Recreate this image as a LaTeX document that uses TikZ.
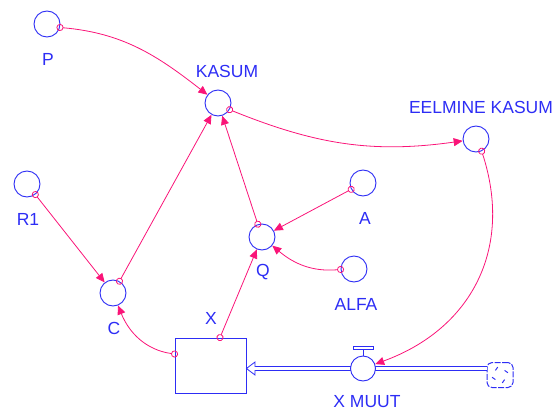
\documentclass[tikz,border=0pt]{standalone}
\usepackage{tikz}
\usepackage{xcolor}
\usepackage{fontspec}
\setmainfont{Liberation Sans}
\usetikzlibrary{positioning,arrows.meta}
\definecolor{vblue}{RGB}{45,45,245}
\definecolor{vpink}{RGB}{250,20,120}
\begin{document}
\begin{tikzpicture}[x=1pt, y=-1pt, >=latex]
    \tikzstyle{aux}=[circle, draw=vblue, line width=0.9pt, fill=white, minimum size=26pt, inner sep=0pt]
    \tikzstyle{lbl}=[text=vblue, inner sep=0pt, font=\fontsize{17.5}{18}\selectfont]
    \tikzstyle{link}=[draw=vpink, line width=0.8pt, shorten <=-3.5pt,
        {Circle[open, length=7pt, width=7pt]}-{Triangle[length=9pt, width=8pt]}]
    \tikzstyle{pipe}=[draw=vblue, line width=0.8pt, double=white, double distance=3.2pt]
    \useasboundingbox (0,0) rectangle (557,412);

    % auxiliaries
    \node[aux] (p) at (47,24) {};
    \node[aux] (kasum) at (218,103) {};
    \node[aux] (eelmine) at (476,139) {};
    \node[aux] (r1) at (27,184) {};
    \node[aux] (c) at (113,293) {};
    \node[aux] (q) at (262,237) {};
    \node[aux] (a) at (363,183) {};
    \node[aux] (alfa) at (354,269) {};

    % stock and flow
    \node[draw=vblue, line width=0.9pt, minimum width=71pt, minimum height=55pt, inner sep=0pt] (x) at (210.5,365.5) {};
    \node[draw=vblue, line width=1pt, rounded corners=5pt, dash pattern=on 6pt off 1.5pt,
        minimum width=26pt, minimum height=25pt, inner sep=0pt] (cloud) at (500,375) {};
    \coordinate (pipein) at (255,368.5);
    \draw[pipe] (cloud.west |- pipein) -- (pipein);
    \draw[draw=vblue, line width=0.8pt, fill=white]
        (255,366.9) -- (255,362) -- (x.east |- pipein) -- (255,375) -- (255,370.1);
    \node[aux, minimum size=25pt] (valve) at (363,368.5) {};
    \draw[vblue, line width=0.8pt] (valve.north) -- ++(0,-6);
    \draw[vblue, line width=0.8pt] (353,346) rectangle (373,349.5);
    \foreach \ang in {45,135,225,315}
        \draw[vblue, line width=1pt] (cloud.center) ++(\ang:6.5) -- ++(\ang+80:4);

    % labels
    \node[lbl] (lp) at (48,59) {P};
    \node[lbl] (lkasum) at (227,71) {KASUM};
    \node[lbl] (leelmine) at (481,107) {EELMINE KASUM};
    \node[lbl] (lr1) at (28,219) {R1};
    \node[lbl] (lc) at (114,328) {C};
    \node[lbl] (lq) at (263,272) {Q};
    \node[lbl] (la) at (365,218) {A};
    \node[lbl] (lalfa) at (356,304) {ALFA};
    \node[lbl] (lx) at (211,318) {X};
    \node[lbl] (lvalve) at (367,402) {X MUUT};

    % links
    \draw[link] (p.-15) to[out=-5, in=142] (kasum);
    \draw[link] (kasum.-30) to[out=-22, in=188] (eelmine);
    \draw[link] (eelmine.-65) to[out=-72, in=20, looseness=1.1] (valve);
    \draw[link] (r1) -- (c);
    \draw[link] (c) -- (kasum);
    \draw[link] (q) -- (kasum);
    \draw[link] (a) -- (q);
    \draw[link] (alfa.182) to[out=185, in=-40] (q);
    \draw[link] ([xshift=9.5pt]x.north) -- (q);
    \draw[link] ([yshift=11.5pt]x.west) to[out=172, in=-68] (c);
\end{tikzpicture}
\end{document}
